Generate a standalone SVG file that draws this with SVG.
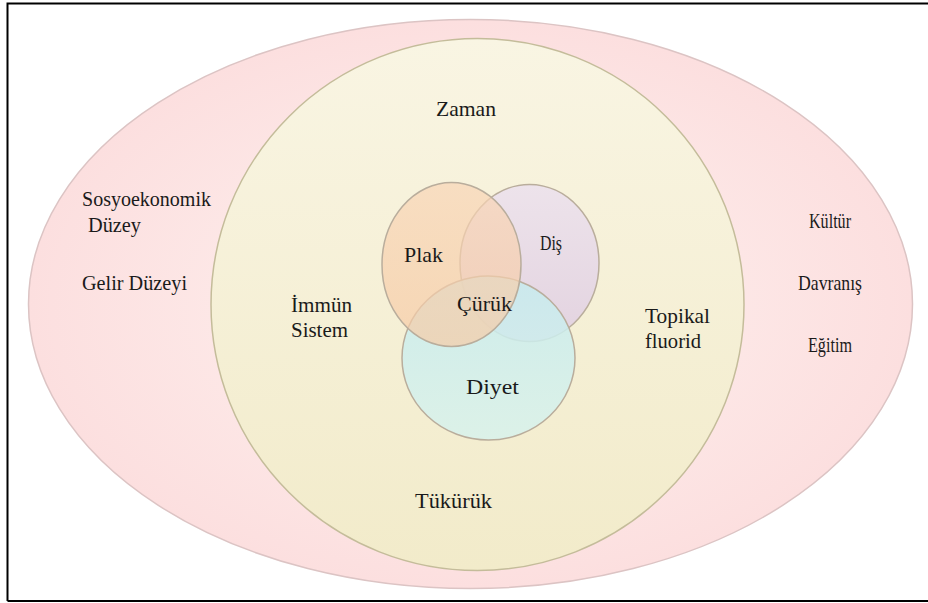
<svg xmlns="http://www.w3.org/2000/svg" width="928" height="603" viewBox="0 0 928 603">
  <defs>
    <radialGradient id="gOuter" cx="0.5" cy="0.5" r="0.5">
      <stop offset="0" stop-color="#fef2f0"/>
      <stop offset="1" stop-color="#fcdfdf"/>
    </radialGradient>
    <linearGradient id="gInner" x1="0" y1="0" x2="0" y2="1">
      <stop offset="0" stop-color="#f9f5e3"/>
      <stop offset="1" stop-color="#f2ebca"/>
    </linearGradient>
    <linearGradient id="gPlak" x1="0" y1="0" x2="0" y2="1">
      <stop offset="0" stop-color="#f8d5b6"/>
      <stop offset="1" stop-color="#f6cba6"/>
    </linearGradient>
    <linearGradient id="gDis" x1="0" y1="0" x2="0" y2="1">
      <stop offset="0" stop-color="#ede3eb"/>
      <stop offset="1" stop-color="#e3d3e0"/>
    </linearGradient>
    <linearGradient id="gDiyet" x1="0" y1="0" x2="0" y2="1">
      <stop offset="0" stop-color="#c6ebee"/>
      <stop offset="1" stop-color="#d8f2ec"/>
    </linearGradient>
  </defs>
  <style>
    .ring { stroke-width: 1.5; }
    .venn { stroke: #b9ad9c; stroke-width: 1.5; }
  </style>

  <rect x="0" y="0" width="928" height="603" fill="#ffffff"/>
  <!-- frame: left, top and bottom edges -->
  <path d="M7.5,601 V3.5 H928 M7.5,601 H928" fill="none" stroke="#000" stroke-width="2"/>

  <g id="outer-ring">
    <ellipse class="ring" cx="470.5" cy="304" rx="442" ry="284.5" fill="url(#gOuter)" stroke="#dcc4c4"/>
    <g font-family="Liberation Serif, serif" font-size="21" fill="#1a1a1a">
      <text x="82" y="206" textLength="129" lengthAdjust="spacingAndGlyphs">Sosyoekonomik</text>
      <text x="88" y="232" textLength="53" lengthAdjust="spacingAndGlyphs">Düzey</text>
      <text x="82" y="290" textLength="105" lengthAdjust="spacingAndGlyphs">Gelir Düzeyi</text>
      <text x="809" y="228" textLength="42" lengthAdjust="spacingAndGlyphs">Kültür</text>
      <text x="798" y="290" textLength="64" lengthAdjust="spacingAndGlyphs">Davranış</text>
      <text x="808" y="352" textLength="44" lengthAdjust="spacingAndGlyphs">Eğitim</text>
    </g>
  </g>

  <g id="inner-ring">
    <ellipse class="ring" cx="477.5" cy="304.5" rx="266.5" ry="266" fill="url(#gInner)" stroke="#c4bc9a"/>
    <g font-family="Liberation Serif, serif" font-size="21" fill="#1a1a1a">
      <text x="436" y="116" textLength="60" lengthAdjust="spacingAndGlyphs">Zaman</text>
      <text x="291" y="312" textLength="61" lengthAdjust="spacingAndGlyphs">İmmün</text>
      <text x="291" y="337" textLength="57" lengthAdjust="spacingAndGlyphs">Sistem</text>
      <text x="645" y="323" textLength="65" lengthAdjust="spacingAndGlyphs">Topikal</text>
      <text x="645" y="348" textLength="56" lengthAdjust="spacingAndGlyphs">fluorid</text>
      <text x="415" y="508" textLength="77" lengthAdjust="spacingAndGlyphs">Tükürük</text>
    </g>
  </g>

  <g id="dis">
    <ellipse class="venn" cx="529.5" cy="263" rx="69.5" ry="78.5" fill="url(#gDis)"/>
  </g>
  <g id="diyet">
    <ellipse class="venn" cx="488.5" cy="358" rx="86.5" ry="82" fill="url(#gDiyet)" fill-opacity="0.85"/>
  </g>
  <g id="plak">
    <ellipse class="venn" cx="451.5" cy="264.5" rx="69.5" ry="82" fill="url(#gPlak)" fill-opacity="0.7"/>
  </g>

  <g id="venn-labels" font-family="Liberation Serif, serif" font-size="21" fill="#1a1a1a">
    <text x="404" y="262" textLength="39" lengthAdjust="spacingAndGlyphs">Plak</text>
    <text x="540" y="250" textLength="22" lengthAdjust="spacingAndGlyphs">Diş</text>
    <text x="457" y="311" textLength="55" lengthAdjust="spacingAndGlyphs">Çürük</text>
    <text x="466" y="394" textLength="53" lengthAdjust="spacingAndGlyphs">Diyet</text>
  </g>
</svg>
